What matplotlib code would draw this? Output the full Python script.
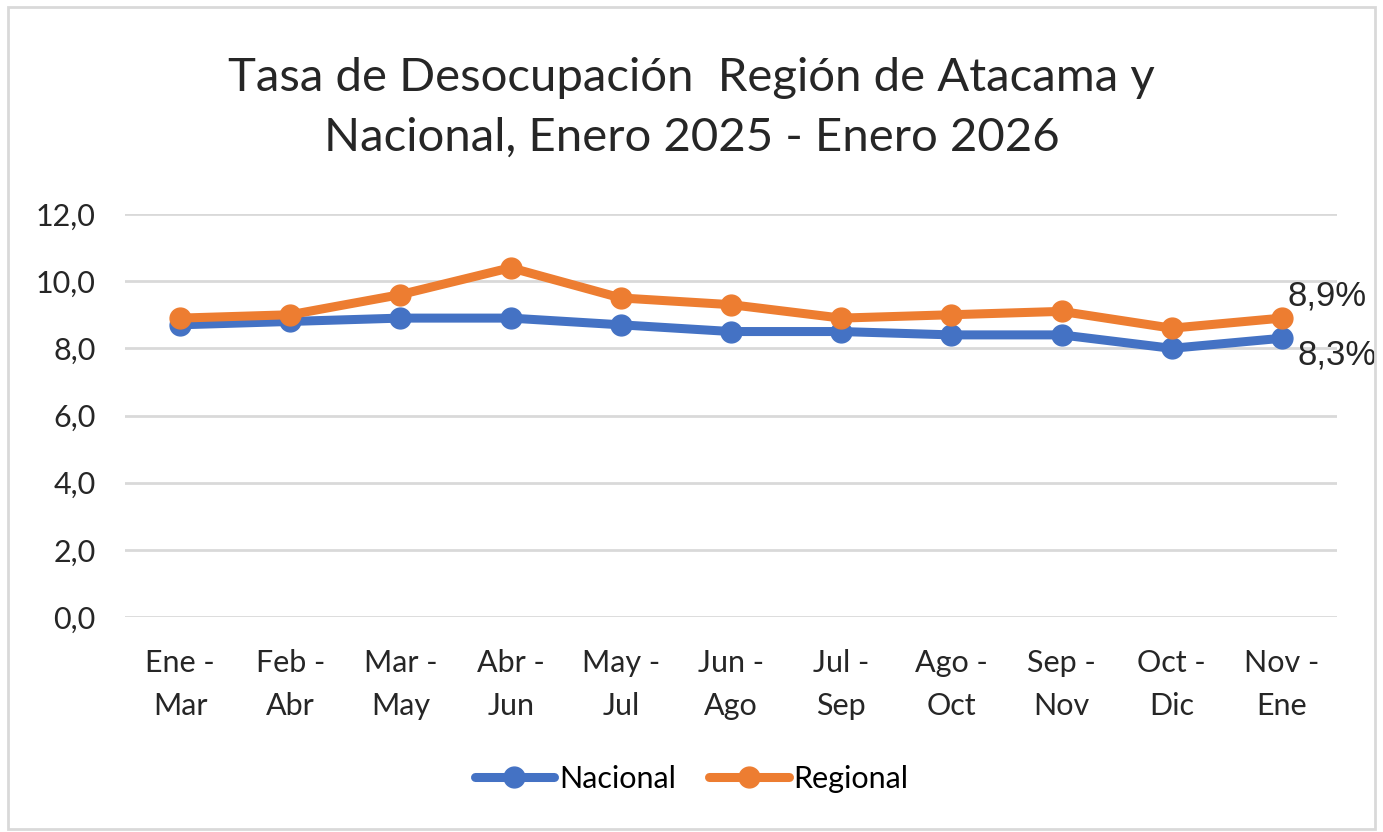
import matplotlib
matplotlib.use("Agg")
import matplotlib.pyplot as plt
from matplotlib.patches import Rectangle

# Datos (trimestres moviles)
trimestres = ["Ene -\nMar", "Feb -\nAbr", "Mar -\nMay", "Abr -\nJun", "May -\nJul",
              "Jun -\nAgo", "Jul -\nSep", "Ago -\nOct", "Sep -\nNov", "Oct -\nDic", "Nov -\nEne"]
nacional = [8.7, 8.8, 8.9, 8.9, 8.7, 8.5, 8.5, 8.4, 8.4, 8.0, 8.3]
regional = [8.9, 9.0, 9.6, 10.4, 9.5, 9.3, 8.9, 9.0, 9.1, 8.6, 8.9]
yticks = [0, 2, 4, 6, 8, 10, 12]

AZUL = "#4472C4"
NARANJA = "#ED7D31"
TEXTO = "#262626"

plt.rcParams["font.family"] = ["Lato", "DejaVu Sans"]

fig = plt.figure(figsize=(13.83, 8.32), dpi=100)
ax = fig.add_axes([0.0904, 0.2584, 0.8763, 0.4844])

x = list(range(len(trimestres)))
ax.plot(x, nacional, color=AZUL, lw=6.5, marker="o", ms=15, label="Nacional", solid_capstyle="round")
ax.plot(x, regional, color=NARANJA, lw=6.5, marker="o", ms=15, label="Regional", solid_capstyle="round")

ax.set_xlim(-0.5, len(trimestres) - 0.5)
ax.set_ylim(0, 12)
ax.set_yticks(yticks)
ax.set_yticklabels([f"{v:.1f}".replace(".", ",") for v in yticks], fontsize=22, color=TEXTO)
ax.set_xticks(x)
ax.set_xticklabels(trimestres, fontsize=22, color=TEXTO, linespacing=1.65)
ax.tick_params(length=0)
ax.tick_params(axis="y", pad=21)
ax.tick_params(axis="x", pad=23)
ax.grid(axis="y", color="#D9D9D9", lw=2)
ax.set_axisbelow(True)
for s in ax.spines.values():
    s.set_visible(False)

# etiquetas del ultimo valor
ax.annotate(f"{regional[-1]:.1f}%".replace(".", ","), (x[-1], regional[-1]),
            xytext=(4, 16), textcoords="offset points", fontsize=25,
            family="Liberation Sans", color=TEXTO, va="center", ha="left")
ax.annotate(f"{nacional[-1]:.1f}%".replace(".", ","), (x[-1], nacional[-1]),
            xytext=(11, -12), textcoords="offset points", fontsize=25,
            family="Liberation Sans", color=TEXTO, va="center", ha="left")

fig.text(0.5, 0.870, "Tasa de Desocupación  Región de Atacama y\nNacional, Enero 2025 - Enero 2026",
         ha="center", va="center", fontsize=34, color=TEXTO, linespacing=1.53)

fig.legend(loc="center", bbox_to_anchor=(0.5, 0.064), ncol=2, frameon=False, fontsize=22,
           handlelength=2.6, columnspacing=1.1, handletextpad=0.15)

fig.patches.append(Rectangle((0.006, 0.004), 0.988, 0.987, transform=fig.transFigure,
                             fill=False, edgecolor="#D9D9D9", lw=2))

fig.savefig("out.png", dpi=100)
